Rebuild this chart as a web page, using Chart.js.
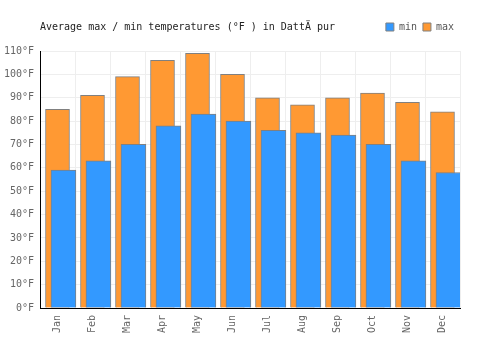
<!DOCTYPE html>
<html>
<head>
  <meta charset="utf-8">
  <title>Dattapur temperatures</title>
  <script src="https://cdn.jsdelivr.net/npm/chart.js@4.4.1/dist/chart.umd.min.js"></script>
  <style>
    body { margin: 0; background: #fff; }
  </style>
</head>
<body>
  <canvas id="myChart" width="500" height="350"></canvas>

  <script>
    const months = ['Jan', 'Feb', 'Mar', 'Apr', 'May', 'Jun', 'Jul', 'Aug', 'Sep', 'Oct', 'Nov', 'Dec'];
    const minTemps = [59, 63, 70, 78, 83, 80, 76, 75, 74, 70, 63, 58];
    const maxTemps = [85, 91, 99, 106, 109, 100, 90, 87, 90, 92, 88, 84];
    const titleText = 'Average max / min temperatures (°F ) in DattÄ pur';

    const monoFont = { family: "'DejaVu Sans Mono', monospace", size: 10 };

    // min bars sit a bit to the right of the max bars
    const shift = 0.17;

    // title shares the line with the legend, so draw it by hand
    const titlePlugin = {
      id: 'sideTitle',
      afterDraw(chart) {
        const ctx = chart.ctx;
        const box = chart.legend.legendHitBoxes[0];
        const y = box ? box.top + box.height / 2 : 26;
        ctx.save();
        ctx.font = "10px 'DejaVu Sans Mono', monospace";
        ctx.fillStyle = '#222';
        ctx.textBaseline = 'middle';
        ctx.textAlign = 'left';
        ctx.fillText(titleText, chart.chartArea.left, y);
        ctx.restore();
      }
    };

    // a bit more room under the legend row
    const legendGap = {
      id: 'legendGap',
      beforeInit(chart) {
        const fit = chart.legend.fit;
        chart.legend.fit = function () {
          fit.call(this);
          this.height += 9;
        };
      }
    };

    const ctx = document.getElementById('myChart').getContext('2d');
    const myChart = new Chart(ctx, {
      type: 'bar',
      data: {
        labels: months,
        datasets: [{
          label: 'min',
          data: minTemps.map((v, i) => ({ x: i, y: v })),
          xAxisID: 'x2',
          backgroundColor: '#3399ff',
          borderColor: '#808080',
          borderWidth: 1,
          barThickness: 25,
          grouped: false
        }, {
          label: 'max',
          data: maxTemps,
          xAxisID: 'x',
          backgroundColor: '#ff9933',
          borderColor: '#808080',
          borderWidth: 1,
          barThickness: 24,
          grouped: false
        }]
      },
      options: {
        responsive: false,
        animation: false,
        layout: { padding: { top: 16, right: 40, left: 0, bottom: 0 } },
        scales: {
          x: {
            type: 'category',
            offset: true,
            grid: { color: '#eeeeee', offset: true, drawTicks: false },
            border: { color: '#000', width: 1 },
            ticks: {
              font: monoFont,
              color: '#666',
              maxRotation: 90,
              minRotation: 90,
              padding: 7
            },
            afterFit(scale) { scale.height = 42; }
          },
          x2: {
            type: 'linear',
            display: false,
            offset: false,
            bounds: 'data',
            grid: { display: false, offset: false },
            min: -0.5 - shift,
            max: 11.5 - shift
          },
          y: {
            min: 0,
            max: 110,
            grid: { color: '#eeeeee', drawTicks: false },
            border: { color: '#000', width: 1 },
            ticks: {
              stepSize: 10,
              font: monoFont,
              color: '#666',
              padding: 6,
              callback: (v) => v + '°F'
            },
            afterFit(scale) { scale.width = 40; }
          }
        },
        plugins: {
          title: { display: false },
          tooltip: { enabled: false },
          legend: {
            position: 'top',
            align: 'end',
            fullSize: false,
            labels: {
              boxWidth: 8,
              boxHeight: 8,
              font: monoFont,
              color: '#555',
              padding: 6
            }
          }
        }
      },
      plugins: [titlePlugin, legendGap]
    });
  </script>
</body>
</html>
